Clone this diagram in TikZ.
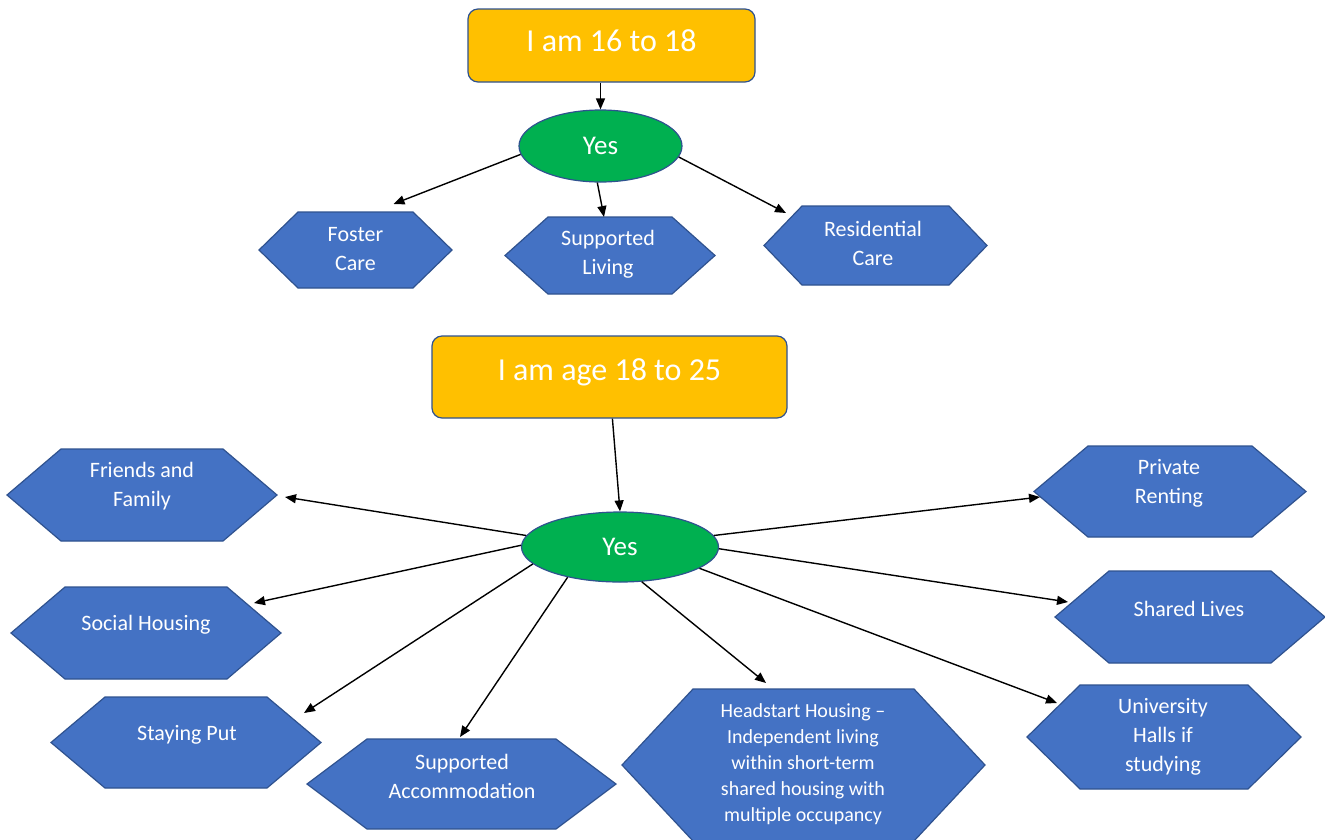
\documentclass[tikz,border=0pt]{standalone}
\usepackage{fontspec}
\setmainfont{Carlito}
\usetikzlibrary{arrows.meta,calc,shapes.geometric}
\definecolor{gold}{HTML}{FFC000}
\definecolor{bordblue}{HTML}{2F528F}
\definecolor{hexblue}{HTML}{4472C4}
\definecolor{yesgreen}{HTML}{00B050}
% #1 cx, #2 cy, #3 half width, #4 half height, #5 inset
\newcommand\hexpoly[5]{\filldraw[hexshape] (#1-#3,#2) -- (#1-#3+#5,#2-#4) -- (#1+#3-#5,#2-#4) -- (#1+#3,#2) -- (#1+#3-#5,#2+#4) -- (#1-#3+#5,#2+#4) -- cycle;}
\begin{document}
\begin{tikzpicture}[x=1pt,y=-1pt,
  agebox/.style={rectangle, rounded corners=10pt, fill=gold, draw=bordblue, line width=1.2pt,
    text=white, inner sep=0pt, font=\fontsize{32}{38}\selectfont},
  yesnode/.style={ellipse, fill=yesgreen, draw=bordblue, line width=1.2pt, text=white,
    inner sep=0pt, font=\fontsize{27}{32}\selectfont},
  hexshape/.style={fill=hexblue, draw=bordblue, line width=1.2pt, line join=miter},
  hextext/.style={text=white, align=center, inner sep=0pt, font=\fontsize{22}{29}\selectfont},
  smalltext/.style={hextext, font=\fontsize{20}{26}\selectfont},
  arr/.style={draw=black, line width=1.4pt, -{Triangle[length=11pt,width=9pt]}}]
\fill[white] (0,0) rectangle (1325,839);
\clip (0,0) rectangle (1325,839);

% ---------- top section ----------
\node[agebox, minimum width=287pt, minimum height=73pt, text height=22pt, text depth=10pt] (box1) at (611.5,45.5) {I am 16 to 18};
\node[yesnode, minimum width=163pt, minimum height=72pt] (yes1) at (600.5,146) {Yes};

\hexpoly{355.5}{250}{96.5}{38}{39}
\node[hextext] (foster) at (355.5,249.5) {Foster\\Care};
\hexpoly{610}{255.5}{105}{38.5}{43}
\node[hextext] (living) at (608,254.5) {Supported\\Living};
\hexpoly{875.5}{245.5}{111.5}{39.5}{38}
\node[hextext] (residential) at (873,243.5) {Residential\\Care};

\draw[arr] (box1.south -| yes1.north) -- (yes1.north);
\draw[arr] (yes1.186) -- ($(foster)+(38,-45.5)$);
\draw[arr] (yes1.265) -- ($(living)+(-4,-37.5)$);
\draw[arr] (yes1.352) -- ($(residential)+(-87,-30.5)$);

% ---------- bottom section ----------
\node[agebox, minimum width=355pt, minimum height=82pt, text height=22pt, text depth=16pt] (box2) at (609.5,377) {I am age 18 to 25};
\node[yesnode, minimum width=197pt, minimum height=70pt] (yes2) at (620,547) {Yes};

\hexpoly{142}{495}{135}{46}{54}
\node[hextext] (friends) at (142,486.5) {Friends and\\Family};
\hexpoly{146}{633}{135}{46}{54}
\node[hextext] (social) at (146,625) {Social Housing};
\hexpoly{186}{742.5}{135}{45.5}{54}
\node[hextext] (staying) at (187,735) {Staying Put};
\hexpoly{461.5}{784}{154.5}{45}{60}
\node[hextext] (supacc) at (462,776) {Supported\\Accommodation};
\hexpoly{803.5}{765}{181.5}{76}{71}
\node[smalltext] (headstart) at (803,764) {Headstart Housing \textendash\\Independent living\\within short-term\\shared housing with\\multiple occupancy};
\hexpoly{1170}{491.5}{136}{45.5}{54}
\node[hextext] (private) at (1169,483.5) {Private\\Renting};
\hexpoly{1190}{617}{135}{46}{54}
\node[hextext] (shared) at (1189,609) {Shared Lives};
\hexpoly{1164}{737}{137}{52}{53}
\node[hextext] (university) at (1163,737) {University\\Halls if\\studying};

\draw[arr] (box2.274) -- (yes2.north);
\draw[arr] (yes2.173) -- ($(friends)+(143,10.5)$);
\draw[arr] (yes2.179) -- ($(social)+(108,-22)$);
\draw[arr] (yes2.191) -- ($(staying)+(117,-22)$);
\draw[arr] (yes2.210) -- ($(supacc)+(-2,-39)$);
\draw[arr] (yes2.302) -- ($(headstart)+(-37,-81)$);
\draw[arr] (yes2.345) -- ($(university)+(-106,-34)$);
\draw[arr] (yes2.359) -- ($(shared)+(-121,-7)$);
\draw[arr] (yes2.7) -- ($(private)+(-129,13.5)$);
\end{tikzpicture}
\end{document}
